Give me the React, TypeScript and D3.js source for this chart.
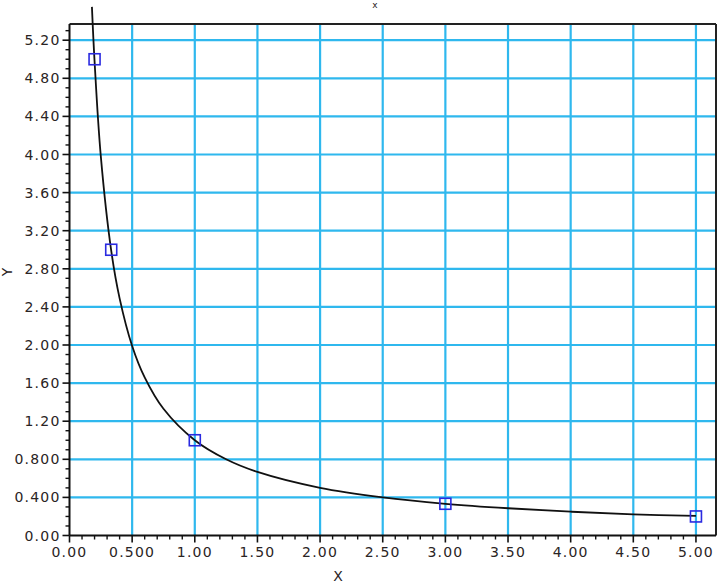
import React from "react";
import * as d3 from "d3";

const pointX = [0.2, 0.333, 1, 3, 5];
const pointY = [5.0, 3.0, 1.0, 0.333, 0.2];

const curveX = [0.179, 0.2, 0.25, 0.333, 0.4, 0.5, 0.6, 0.75, 1, 1.25, 1.5, 2, 2.5, 3, 3.5, 4, 4.5, 5];
const curveY = [5.55, 4.98, 3.98, 2.99, 2.49, 1.99, 1.66, 1.33, 1.0, 0.8, 0.667, 0.5, 0.4, 0.333, 0.286, 0.25, 0.222, 0.205];

const xTicks = [0, 0.5, 1, 1.5, 2, 2.5, 3, 3.5, 4, 4.5, 5];
const xTickLabels = ["0.00", "0.500", "1.00", "1.50", "2.00", "2.50", "3.00", "3.50", "4.00", "4.50", "5.00"];
const yTicks = [0, 0.4, 0.8, 1.2, 1.6, 2.0, 2.4, 2.8, 3.2, 3.6, 4.0, 4.4, 4.8, 5.2];
const yTickLabels = ["0.00", "0.400", "0.800", "1.20", "1.60", "2.00", "2.40", "2.80", "3.20", "3.60", "4.00", "4.40", "4.80", "5.20"];

const W = 720;
const H = 583;
const L = 69.5, R = 716, T = 24, B = 535.5;

export default function App() {
  const x = d3.scaleLinear().domain([0, 5.16]).range([L, R]);
  const y = d3.scaleLinear().domain([0, 5.37]).range([B, T]);

  const xMinor = d3.range(0, 51).map((i) => i / 10).filter((v) => Math.round(v * 10) % 5 !== 0);
  const yMinor = d3.range(0, 54).map((i) => i / 10).filter((v) => Math.round(v * 10) % 4 !== 0);

  const line = d3
    .line<number>()
    .x((_, i) => x(curveX[i]))
    .y((_, i) => y(curveY[i]))
    .curve(d3.curveCatmullRom.alpha(0.5));

  const font = "'DejaVu Sans', Verdana, sans-serif";
  const textColor = "#2a2424";
  const grid = "#2fb8ee";

  return (
    <svg width={W} height={H} style={{ position: "absolute", left: 0, top: 0, background: "#fff" }}>
      {xTicks.filter((v) => v > 0).map((v) => (
        <line key={"gx" + v} x1={x(v)} x2={x(v)} y1={T} y2={B} stroke={grid} strokeWidth={2.2} />
      ))}
      {yTicks.filter((v) => v > 0).map((v) => (
        <line key={"gy" + v} x1={L} x2={R} y1={y(v)} y2={y(v)} stroke={grid} strokeWidth={2.2} />
      ))}
      <line x1={L} x2={R} y1={T} y2={T} stroke="#222" strokeWidth={2} />
      <line x1={R} x2={R} y1={T} y2={B} stroke="#222" strokeWidth={2} />
      <line x1={L} x2={L} y1={T} y2={B} stroke="#111" strokeWidth={2} />
      <line x1={L} x2={R} y1={B} y2={B} stroke="#111" strokeWidth={2} />
      {yTicks.map((v) => (
        <line key={"yt" + v} x1={L - 7} x2={L} y1={y(v)} y2={y(v)} stroke="#111" strokeWidth={1.6} />
      ))}
      {yMinor.map((v) => (
        <line key={"ym" + v} x1={L - 4} x2={L} y1={y(v)} y2={y(v)} stroke="#111" strokeWidth={1.4} />
      ))}
      {xTicks.map((v) => (
        <line key={"xt" + v} x1={x(v)} x2={x(v)} y1={B} y2={B + 7} stroke="#111" strokeWidth={1.6} />
      ))}
      {xMinor.map((v) => (
        <line key={"xm" + v} x1={x(v)} x2={x(v)} y1={B} y2={B + 4} stroke="#111" strokeWidth={1.4} />
      ))}
      {yTicks.map((v, i) => (
        <text key={"yl" + v} x={L - 9} y={y(v)} dy="0.36em" textAnchor="end" fontFamily={font} fontSize={14} letterSpacing={1.2} fill={textColor}>
          {yTickLabels[i]}
        </text>
      ))}
      {xTicks.map((v, i) => (
        <text key={"xl" + v} x={x(v)} y={557} textAnchor="middle" fontFamily={font} fontSize={14} letterSpacing={1.2} fill={textColor}>
          {xTickLabels[i]}
        </text>
      ))}
      <text x={338} y={581} textAnchor="middle" fontFamily={font} fontSize={14} fill={textColor}>X</text>
      <text transform="translate(12,272) rotate(-90)" textAnchor="middle" fontFamily={font} fontSize={14} fill={textColor}>Y</text>
      <text x={375} y={8} textAnchor="middle" fontFamily={font} fontSize={9} fill={textColor}>x</text>
      <path d={line(curveX) || ""} fill="none" stroke="#111" strokeWidth={1.8} />
      {pointX.map((v, i) => (
        <rect key={"p" + i} x={x(v) - 5.5} y={y(pointY[i]) - 5.5} width={11} height={11} fill="none" stroke="#2a2ae0" strokeWidth={1.6} />
      ))}
    </svg>
  );
}
